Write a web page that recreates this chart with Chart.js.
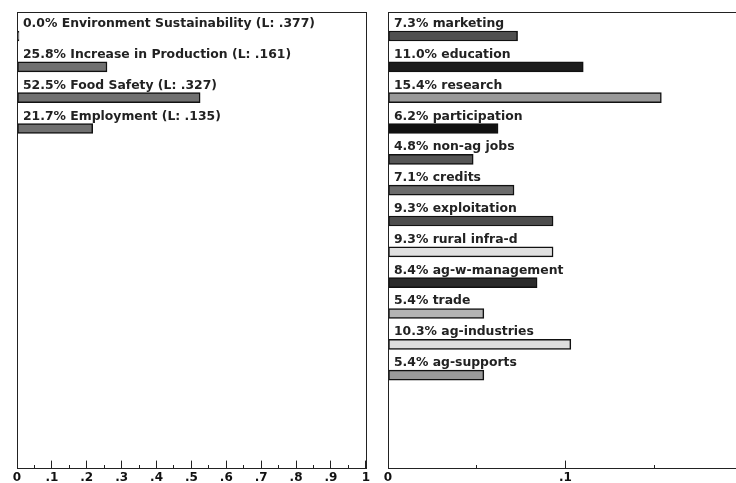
<!DOCTYPE html>
<html lang="en">
<head>
<meta charset="UTF-8">
<title>Goal and measure shares</title>
<script src="https://cdn.jsdelivr.net/npm/chart.js"></script>
<style>
  html, body { margin: 0; padding: 0; background: #fff; }
  body { width: 736px; height: 483px; overflow: hidden; position: relative; }
  canvas { position: absolute; top: 0; }
  #goalChart { left: 0; }
  #measureChart { left: 368px; }
</style>
</head>
<body>
<canvas id="goalChart" width="380" height="495"></canvas>
<canvas id="measureChart" width="420" height="495"></canvas>

<script>
// left panel: goals
const goalNames = ['Environment Sustainability', 'Increase in Production', 'Food Safety', 'Employment'];
const goalShares = [0.0, 0.258, 0.525, 0.217];
const goalL = ['.377', '.161', '.327', '.135'];
const goalColor = '#707070';

// right panel: measures
const measureNames = ['marketing', 'education', 'research', 'participation', 'non-ag jobs', 'credits',
  'exploitation', 'rural infra-d', 'ag-w-management', 'trade', 'ag-industries', 'ag-supports'];
const measureShares = [0.073, 0.110, 0.154, 0.062, 0.048, 0.071, 0.093, 0.093, 0.084, 0.054, 0.103, 0.054];
const measureColors = ['#505050', '#1c1c1c', '#999999', '#111111', '#555555', '#6b6b6b',
  '#4d4d4d', '#e0e0e0', '#2b2b2b', '#b3b3b3', '#dedede', '#9a9a9a'];

// tick labels, one per 0.1 step
const leftTickLabels = ['0', '.1', '.2', '.3', '.4', '.5', '.6', '.7', '.8', '.9', '1'];
const rightTickLabels = ['0', '.1', '.2'];

const pct = v => (v * 100).toFixed(1) + '%';
const goalLabels = goalNames.map((n, i) => pct(goalShares[i]) + ' ' + n + ' (L: ' + goalL[i] + ')');
const measureLabels = measureNames.map((n, i) => pct(measureShares[i]) + ' ' + n);

const FONT = '"DejaVu Sans", Verdana, sans-serif';

// box around the plot + text labels above each bar
const framePlugin = {
  id: 'frame',
  afterDatasetsDraw(chart, args, opts) {
    const { ctx, chartArea: a, scales } = chart;
    ctx.save();
    ctx.strokeStyle = '#222';
    ctx.lineWidth = 1;
    ctx.strokeRect(Math.round(a.left) + 0.5, Math.round(a.top) + 0.5,
      Math.round(a.right - a.left), Math.round(a.bottom - a.top));
    ctx.font = 'bold 12.4px ' + FONT;
    ctx.fillStyle = '#222';
    ctx.textBaseline = 'alphabetic';
    opts.labels.forEach((t, i) => {
      ctx.fillText(t, a.left + 6, scales.y.getPixelForValue(i) - 9);
    });
    ctx.restore();
  }
};

function isMajor(v) {
  return Math.abs(v * 10 - Math.round(v * 10)) < 1e-6;
}

function makeChart(id, values, colors, labels, maxX, tickLabels, pad) {
  return new Chart(document.getElementById(id), {
    type: 'bar',
    data: {
      datasets: [{
        data: values.map((v, i) => ({ x: v, y: i })),
        backgroundColor: colors,
        borderColor: '#111',
        borderWidth: 1.5,
        borderSkipped: false,
        barThickness: 10,
        minBarLength: 2
      }]
    },
    options: {
      indexAxis: 'y',
      responsive: false,
      animation: false,
      layout: { padding: pad },
      plugins: {
        legend: { display: false },
        tooltip: { enabled: false },
        frame: { labels: labels }
      },
      scales: {
        y: { type: 'linear', reverse: true, offset: false, grace: 0, min: -0.78, max: 14, display: false },
        x: {
          type: 'linear',
          min: 0,
          max: maxX,
          border: { display: false },
          grid: {
            drawOnChartArea: false,
            tickLength: -7,
            tickColor: '#222',
            tickWidth: 1,
            tickBorderDash: ctx => (ctx.tick && !isMajor(ctx.tick.value) ? [3, 50] : [])
          },
          ticks: {
            stepSize: 0.05,
            autoSkip: false,
            maxRotation: 0,
            padding: 10,
            color: '#111',
            font: { family: FONT, size: 12, weight: 'bold' },
            callback: v => (isMajor(v) ? tickLabels[Math.round(v * 10)] : '')
          }
        }
      }
    },
    plugins: [framePlugin]
  });
}

makeChart('goalChart', goalShares, goalShares.map(() => goalColor), goalLabels, 1, leftTickLabels,
  { left: 17, right: 11, top: 12, bottom: 0 });
makeChart('measureChart', measureShares, measureColors, measureLabels, 0.2, rightTickLabels,
  { left: 20, right: 45, top: 12, bottom: 0 });
</script>
</body>
</html>
